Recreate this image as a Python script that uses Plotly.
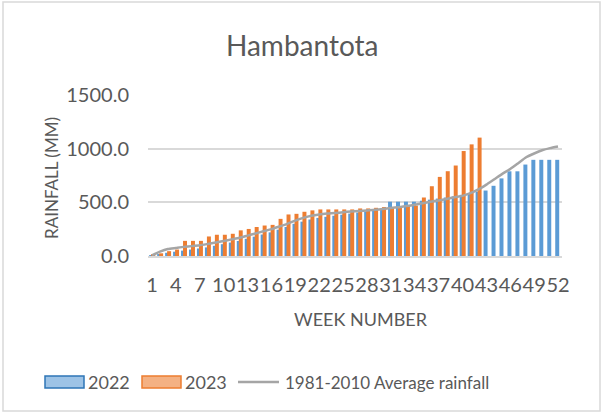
import plotly.graph_objects as go

# ---------------- data ----------------
weeks = list(range(1, 53))

rain_2022 = [5, 15, 30, 40, 50, 60, 70, 80, 95, 110,
             125, 140, 160, 180, 200, 220, 245, 270, 300, 320,
             340, 355, 365, 375, 385, 395, 405, 415, 425, 440,
             506, 506, 506, 506, 515, 525, 535, 545, 555, 570,
             585, 600, 610, 654, 723, 789, 789, 852, 896, 896,
             896, 896]

rain_2023 = [10, 25, 45, 60, 141, 141, 141, 182, 198, 198,
             207, 239, 252, 270, 284, 290, 346, 387, 393, 412,
             425, 434, 434, 434, 434, 434, 443, 443, 449, 456,
             455, 460, 465, 470, 545, 650, 737, 790, 843, 978,
             1040, 1103] + [None] * 10

avg_1981_2010 = [5, 40, 65, 75, 85, 92, 100, 112, 125, 140,
                 155, 170, 190, 210, 230, 250, 275, 300, 330, 355,
                 375, 387, 395, 400, 408, 415, 420, 425, 430, 438,
                 447, 455, 465, 478, 492, 505, 518, 532, 548, 560,
                 585, 620, 665, 715, 765, 811, 865, 920, 955, 985,
                 1005, 1020]

x_tick_weeks = list(range(1, 53, 3))
y_ticks = [0, 500, 1000, 1500]

series_names = ["2022", "2023", "1981-2010 Average rainfall"]
colors = {"2022": "#5B9BD5", "2023": "#ED7D31", "avg": "#A5A5A5"}

# ---------------- layout geometry (pixels) ----------------
W, H = 604, 413
PL, PR, PT, PB = 148, 562, 95, 256


def px(x):
    return (x - PL) / (PR - PL)


def py(y):
    return (PB - y) / (PB - PT)


FONT = "Lato, 'Open Sans', sans-serif"
TXT = "#595959"

fig = go.Figure()
fig.add_trace(go.Bar(x=weeks, y=rain_2022, name=series_names[0],
                     marker=dict(color=colors["2022"], line=dict(width=0)),
                     width=0.5, offset=-0.35))
fig.add_trace(go.Bar(x=weeks, y=rain_2023, name=series_names[1],
                     marker=dict(color=colors["2023"], line=dict(width=0)),
                     width=0.5, offset=-0.1))
fig.add_trace(go.Scatter(x=weeks, y=avg_1981_2010, name=series_names[2],
                         mode="lines",
                         line=dict(color=colors["avg"], width=2.5, shape="spline", smoothing=0.5)))

annotations = [
    dict(text="Hambantota", x=px(302), y=py(45), font=dict(size=28, color=TXT, family=FONT)),
    dict(text="RAINFALL (MM)", x=px(51), y=py(178), textangle=-90,
         font=dict(size=17, color=TXT, family=FONT)),
    dict(text="WEEK NUMBER", x=px(361), y=py(319), font=dict(size=18, color=TXT, family=FONT)),
    dict(text="2022", x=px(86), y=py(382), xanchor="left", font=dict(size=18, color=TXT, family=FONT)),
    dict(text="2023", x=px(183), y=py(382), xanchor="left", font=dict(size=18, color=TXT, family=FONT)),
    dict(text="1981-2010 Average rainfall", x=px(283), y=py(382), xanchor="left",
         font=dict(size=17, color=TXT, family=FONT)),
]
for a in annotations:
    a.update(xref="paper", yref="paper", showarrow=False)
    a.setdefault("xanchor", "center")
    a.setdefault("yanchor", "middle")

shapes = [
    # chart border
    dict(type="rect", xref="paper", yref="paper", x0=px(3), x1=px(600), y0=py(2), y1=py(411),
         line=dict(color="#D9D9D9", width=1.5), fillcolor="rgba(0,0,0,0)", layer="below"),
    # legend swatches
    dict(type="rect", xref="paper", yref="paper", x0=px(45), x1=px(84), y0=py(376), y1=py(388),
         line=dict(color="#2E75B6", width=1.5), fillcolor="#9DC3E6"),
    dict(type="rect", xref="paper", yref="paper", x0=px(142), x1=px(181), y0=py(376), y1=py(388),
         line=dict(color="#ED7D31", width=1.5), fillcolor="#F4B183"),
    dict(type="line", xref="paper", yref="paper", x0=px(238), x1=px(279), y0=py(382), y1=py(382),
         line=dict(color=colors["avg"], width=2.5)),
]

fig.update_layout(
    width=W, height=H,
    margin=dict(l=PL, r=W - PR, t=PT, b=H - PB, pad=0),
    paper_bgcolor="white", plot_bgcolor="white",
    barmode="overlay",
    showlegend=False,
    font=dict(family=FONT, color=TXT),
    annotations=annotations,
    shapes=shapes,
    xaxis=dict(range=[0.5, 52.5], tickmode="array", tickvals=x_tick_weeks,
               ticktext=[str(w) for w in x_tick_weeks],
               tickfont=dict(size=20, color=TXT, family=FONT),
               showgrid=False, zeroline=False, showline=True, linecolor="#D9D9D9", linewidth=1.5,
               ticks="", ticklabelstandoff=10, tickangle=0, fixedrange=True),
    yaxis=dict(range=[0, 1500], tickmode="array", tickvals=y_ticks,
               ticktext=["%.1f" % v for v in y_ticks],
               tickfont=dict(size=20, color=TXT, family=FONT),
               showgrid=True, gridcolor="#D9D9D9", gridwidth=1.5,
               zeroline=False, showline=False, ticks="", ticklabelstandoff=18, fixedrange=True),
)

fig.write_html("out.html", config={"displayModeBar": False},
               post_script="document.body.style.margin='0';document.body.style.overflow='hidden';")
